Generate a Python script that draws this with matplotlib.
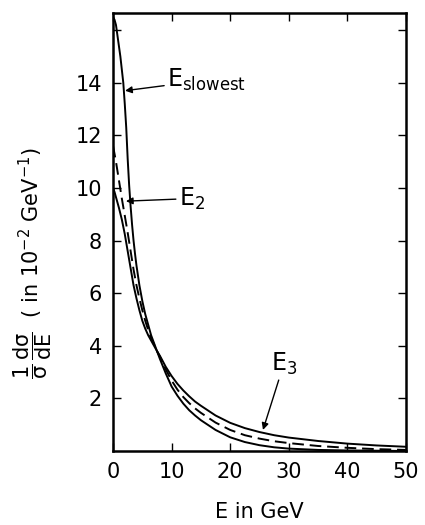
import matplotlib
matplotlib.use("Agg")
from matplotlib import pyplot as plt

# Curves (energy in GeV)
x_slowest = [0, 0.25, 0.5, 0.75, 1, 1.25, 1.5, 1.75, 2, 2.25, 2.5, 2.75, 3, 3.25, 3.5, 3.75,
             4, 4.5, 5, 5.5, 6, 6.5, 7, 7.5, 8, 9, 10, 11, 12, 13, 14, 15, 17.5, 20, 22.5,
             25, 27.5, 30, 35, 40, 45, 50]
e_slowest = [16.5, 16.4, 16.2, 15.8, 15.4, 15.0, 14.5, 14.0, 13.2, 12.3, 11.1, 10.1, 9.3,
             8.6, 8.0, 7.5, 7.05, 6.3, 5.7, 5.2, 4.8, 4.4, 4.1, 3.8, 3.5, 2.95, 2.45, 2.1,
             1.8, 1.55, 1.35, 1.17, 0.8, 0.52, 0.34, 0.22, 0.14, 0.09, 0.04, 0.02, 0.01, 0.0]

x_curve = [0, 0.25, 0.5, 1, 1.5, 2, 2.5, 3, 3.5, 4, 4.5, 5, 5.5, 6, 6.5, 7, 7.5, 8, 9, 10,
           11, 12, 13, 14, 15, 17.5, 20, 22.5, 25, 27.5, 30, 35, 40, 45, 50]
e_dashed = [11.6, 11.3, 11.0, 10.3, 9.6, 8.95, 8.3, 7.6, 6.9, 6.3, 5.8, 5.35, 4.95, 4.6,
            4.3, 4.05, 3.8, 3.58, 3.1, 2.68, 2.33, 2.05, 1.82, 1.62, 1.45, 1.08, 0.8, 0.6,
            0.47, 0.37, 0.3, 0.19, 0.12, 0.07, 0.04]
e_third = [10.0, 9.85, 9.65, 9.25, 8.8, 8.25, 7.6, 6.95, 6.3, 5.8, 5.35, 4.95, 4.65, 4.4,
           4.2, 4.0, 3.8, 3.62, 3.2, 2.85, 2.55, 2.3, 2.08, 1.88, 1.72, 1.35, 1.07, 0.87,
           0.72, 0.6, 0.51, 0.38, 0.28, 0.21, 0.16]

xticks = [0, 10, 20, 30, 40, 50]
yticks = [2, 4, 6, 8, 10, 12, 14, 16]
ytick_labels = ['2', '4', '6', '8', '10', '12', '14', '']

fig = plt.figure(figsize=(4.25, 5.25), dpi=100)
ax = fig.add_axes([0.266, 0.141, 0.689, 0.834])

ax.plot(x_slowest, e_slowest, c='black', lw=1.4)
ax.plot(x_curve, e_third, c='black', lw=1.4)
ax.plot(x_curve, e_dashed, c='black', lw=1.4, ls=(0, (6, 3)))

ax.set_xlim(0, 50)
ax.set_ylim(0, 16.65)
ax.set_xticks(xticks)
ax.set_yticks(yticks)
ax.set_yticklabels(ytick_labels)
ax.tick_params(direction='in', length=6, width=1, labelsize=15, top=True, right=True, pad=8)
for s in ax.spines.values():
    s.set_linewidth(1.8)

arrow = dict(arrowstyle='-|>', color='black', lw=1, mutation_scale=10, shrinkA=0, shrinkB=0)
ax.annotate(r'$\mathregular{E_{slowest}}$', xy=(2.05, 13.7), xytext=(9.2, 14.1),
            fontsize=17, va='center', arrowprops=arrow)
ax.annotate(r'$\mathregular{E_2}$', xy=(2.2, 9.5), xytext=(11.2, 9.6),
            fontsize=17, va='center', arrowprops=arrow)
ax.annotate(r'$\mathregular{E_3}$', xy=(25.6, 0.8), xytext=(26.9, 3.3),
            fontsize=17, va='center', arrowprops=arrow)

ax.set_xlabel('E in GeV', fontsize=15, labelpad=14)
ax.set_ylabel(r'$\mathregular{\dfrac{1}{\sigma}\,\dfrac{d\sigma}{dE}}$  ( in 10$^{-2}$ GeV$^{-1}$)',
              fontsize=15)
ax.yaxis.set_label_coords(-0.2, 0.43)

fig.savefig('out.png')
